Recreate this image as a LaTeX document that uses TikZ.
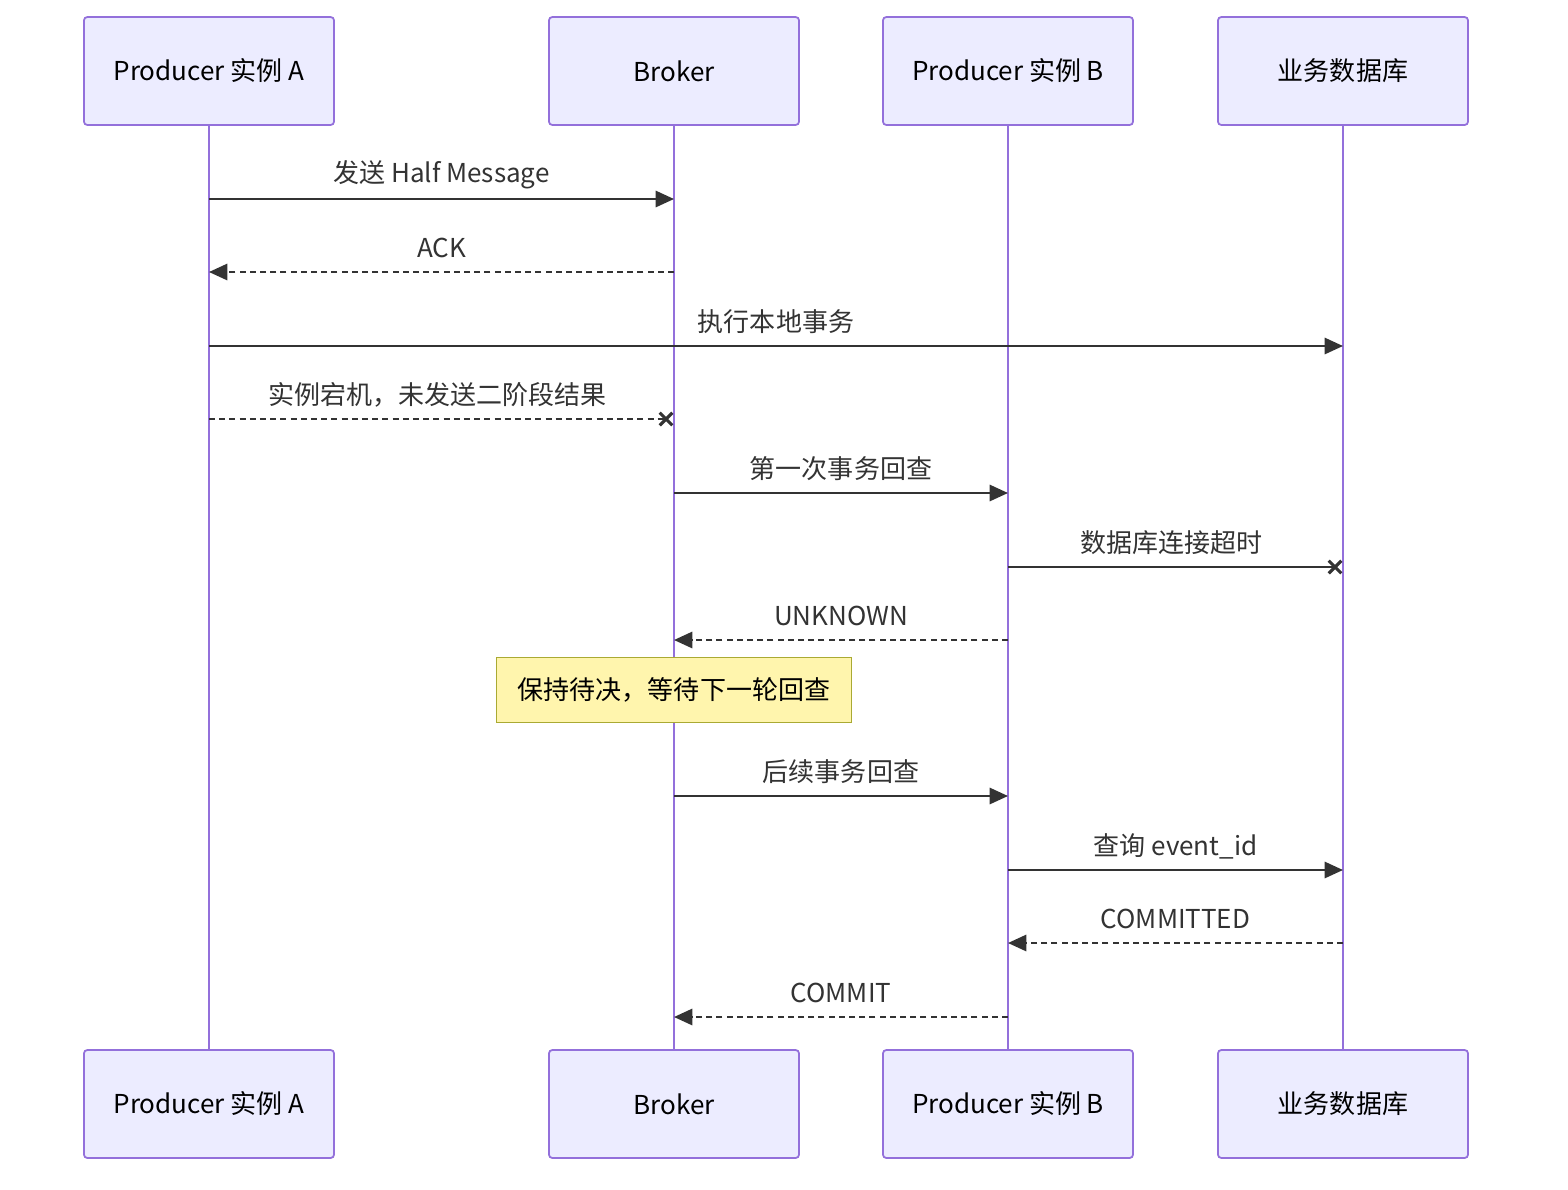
\documentclass[tikz,border=0pt]{standalone}
\usepackage{fontspec}
\setmainfont{Noto Sans CJK SC}
\usepackage{tikz}
\usetikzlibrary{arrows.meta}
\definecolor{actfill}{HTML}{ECECFF}
\definecolor{actline}{HTML}{9370DB}
\definecolor{notefill}{HTML}{FFF5AD}
\definecolor{noteline}{HTML}{AAAA33}
\definecolor{msgcol}{HTML}{333333}
\tikzset{xcross/.pic={\draw[msgcol, line width=0.9pt] (-1.8pt,-1.8pt) -- (1.8pt,1.8pt) (-1.8pt,1.8pt) -- (1.8pt,-1.8pt);}}

\begin{document}
\begin{tikzpicture}[x=0.01cm, y=-0.01cm,
  actor/.style={draw=actline, fill=actfill, line width=0.5pt, rounded corners=1pt,
    minimum width=2.5cm, minimum height=1.08cm, font=\fontsize{7.4}{9}\selectfont},
  life/.style={draw=actline, line width=0.85pt},
  note/.style={draw=noteline, fill=notefill, line width=0.5pt,
    minimum width=3.55cm, minimum height=0.65cm, font=\fontsize{7.4}{9}\selectfont},
  msg/.style={draw=msgcol, line width=0.65pt, -{Triangle[length=5.2pt,width=4.6pt]}},
  reply/.style={msg, dash pattern=on 1.7pt off 1.2pt},
  lost/.style={draw=msgcol, line width=0.65pt},
  lbl/.style={font=\fontsize{7.4}{9}\selectfont, text=msgcol, midway, yshift=0.24cm}]

\fill[white] (0,0) rectangle (1568,1190);
\useasboundingbox (0,0) rectangle (1568,1190);

\node[actor] (A) at (209,71) {Producer 实例 A};
\node[actor] (B) at (674,71) {Broker};
\node[actor] (C) at (1008,71) {Producer 实例 B};
\node[actor] (D) at (1343,71) {业务数据库};
\node[actor] (A2) at (209,1104) {Producer 实例 A};
\node[actor] (B2) at (674,1104) {Broker};
\node[actor] (C2) at (1008,1104) {Producer 实例 B};
\node[actor] (D2) at (1343,1104) {业务数据库};

\draw[life] (A) -- (A2);
\draw[life] (B) -- (B2);
\draw[life] (C) -- (C2);
\draw[life] (D) -- (D2);

\coordinate (m1) at (0,199);
\coordinate (m2) at (0,272);
\coordinate (m3) at (0,346);
\coordinate (m4) at (0,419);
\coordinate (m5) at (0,493);
\coordinate (m6) at (0,567);
\coordinate (m7) at (0,640);
\coordinate (m8) at (0,796);
\coordinate (m9) at (0,870);
\coordinate (m10) at (0,943);
\coordinate (m11) at (0,1017);
\coordinate (x1) at (666,419);
\coordinate (x2) at (1335,567);

\draw[msg] (A|-m1) -- (B|-m1) node[lbl] {发送 Half Message};
\draw[reply] (B|-m2) -- (A|-m2) node[lbl] {ACK};
\draw[msg] (A|-m3) -- (D|-m3) node[lbl] {执行本地事务};
\draw[lost, dash pattern=on 1.7pt off 1.2pt] (A|-m4) -- (x1) node[lbl] {实例宕机，未发送二阶段结果};
\pic at (x1) {xcross};
\draw[msg] (B|-m5) -- (C|-m5) node[lbl] {第一次事务回查};
\draw[lost] (C|-m6) -- (x2) node[lbl] {数据库连接超时};
\pic at (x2) {xcross};
\draw[reply] (C|-m7) -- (B|-m7) node[lbl] {UNKNOWN};
\node[note] (N) at (674,690) {保持待决，等待下一轮回查};
\draw[msg] (B|-m8) -- (C|-m8) node[lbl] {后续事务回查};
\draw[msg] (C|-m9) -- (D|-m9) node[lbl] {查询 event\_id};
\draw[reply] (D|-m10) -- (C|-m10) node[lbl] {COMMITTED};
\draw[reply] (C|-m11) -- (B|-m11) node[lbl] {COMMIT};

\end{tikzpicture}
\end{document}
